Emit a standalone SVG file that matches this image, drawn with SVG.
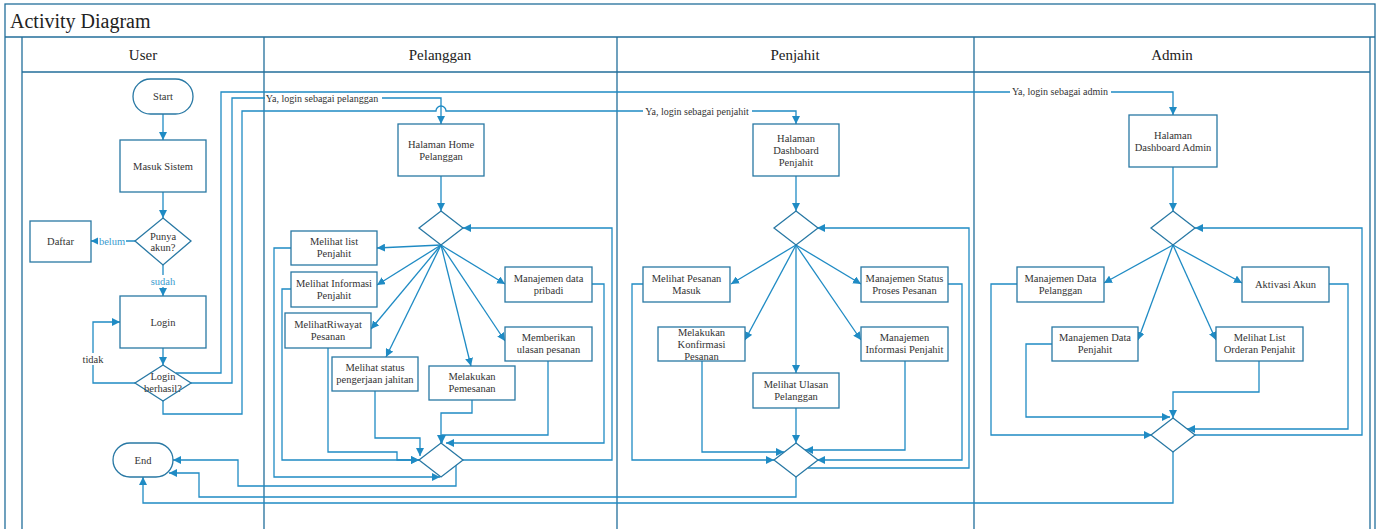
<svg xmlns="http://www.w3.org/2000/svg" width="1380" height="529" viewBox="0 0 1380 529">
<style>
.frame{fill:none;stroke:#236f9b;stroke-width:1.3}
.box{fill:#fff;stroke:#2878a4;stroke-width:1.3}
.conn{fill:none;stroke:#1f8bc4;stroke-width:1.3}
.t{font-family:"Liberation Serif",serif;font-size:10.5px;fill:#333;text-anchor:middle}
.lbl{font-family:"Liberation Serif",serif;font-size:10px;fill:#333;text-anchor:middle}
.blbl{font-family:"Liberation Serif",serif;font-size:10.5px;fill:#3a9ccf;text-anchor:middle}
.lane{font-family:"Liberation Serif",serif;font-size:15px;fill:#222;text-anchor:middle}
.bg{fill:#fff;stroke:none}
</style>
<defs>
<marker id="ah" viewBox="0 0 10 10" refX="10" refY="5" markerWidth="8" markerHeight="8" markerUnits="userSpaceOnUse" orient="auto">
<path d="M0,0 L10,5 L0,10 z" fill="#1f8bc4"/>
</marker>
</defs>
<rect x="0" y="0" width="1380" height="529" fill="#fff"/>
<g id="frame">
<rect class="frame" x="5" y="4" width="1370" height="540"/>
<path class="frame" d="M5,37 H1375 M22,37 V529 M22,72 H1370 M264,37 V529 M617,37 V529 M974,37 V529 M1370,37 V529"/>
<text x="10" y="28" style="font-family:'Liberation Serif',serif;font-size:20px;fill:#222">Activity Diagram</text>
<text class="lane" x="143" y="60">User</text>
<text class="lane" x="440" y="60">Pelanggan</text>
<text class="lane" x="795" y="60">Penjahit</text>
<text class="lane" x="1172" y="60">Admin</text>
</g>
<g id="connectors">
<path class="conn" marker-end="url(#ah)" d="M163,114 V140"/>
<path class="conn" marker-end="url(#ah)" d="M163,192 V218"/>
<path class="conn" marker-end="url(#ah)" d="M135,241 H91"/>
<path class="conn" marker-end="url(#ah)" d="M163,265 V296"/>
<path class="conn" marker-end="url(#ah)" d="M163,348 V365"/>
<path class="conn" marker-end="url(#ah)" d="M135,383 H93 V322 H120"/>
<path class="conn" marker-end="url(#ah)" d="M176,373 H221 V92 H1173 V115"/>
<path class="conn" marker-end="url(#ah)" d="M191,383 H232 V98 H441 V124"/>
<path class="conn" marker-end="url(#ah)" d="M163,401 V414 H242 V111 H436 A5,5 0 0 1 446,111 H796 V124"/>
<path class="conn" marker-end="url(#ah)" d="M441,176 V211"/>
<path class="conn" marker-end="url(#ah)" d="M441,245 L377,248"/>
<path class="conn" marker-end="url(#ah)" d="M441,245 L377,285"/>
<path class="conn" marker-end="url(#ah)" d="M441,245 L371,329"/>
<path class="conn" marker-end="url(#ah)" d="M441,245 L386,357"/>
<path class="conn" marker-end="url(#ah)" d="M441,245 L471,366"/>
<path class="conn" marker-end="url(#ah)" d="M441,245 L505,341"/>
<path class="conn" marker-end="url(#ah)" d="M441,245 L505,284"/>
<path class="conn" marker-end="url(#ah)" d="M291,248 H274 V477 H440"/>
<path class="conn" marker-end="url(#ah)" d="M291,289 H282 V460 H419"/>
<path class="conn" marker-end="url(#ah)" d="M328,348 V452 H397 V460 H419"/>
<path class="conn" marker-end="url(#ah)" d="M375,391 V438 H420 V456"/>
<path class="conn" marker-end="url(#ah)" d="M472,400 V413 H441 V443"/>
<path class="conn" marker-end="url(#ah)" d="M548,361 V435 H442 V443"/>
<path class="conn" marker-end="url(#ah)" d="M592,284 H604 V443 H446"/>
<path class="conn" marker-end="url(#ah)" d="M463,460 H612 V228 H463"/>
<path class="conn" marker-end="url(#ah)" d="M456,465 V486 H238 V460 H173"/>
<path class="conn" marker-end="url(#ah)" d="M796,176 V211"/>
<path class="conn" marker-end="url(#ah)" d="M796,245 L731,284"/>
<path class="conn" marker-end="url(#ah)" d="M796,245 L861,284"/>
<path class="conn" marker-end="url(#ah)" d="M796,245 L745,340"/>
<path class="conn" marker-end="url(#ah)" d="M796,245 L861,340"/>
<path class="conn" marker-end="url(#ah)" d="M796,245 V373"/>
<path class="conn" marker-end="url(#ah)" d="M643,284 H632 V460 H774"/>
<path class="conn" marker-end="url(#ah)" d="M702,361 V452 H784"/>
<path class="conn" marker-end="url(#ah)" d="M796,408 V443"/>
<path class="conn" marker-end="url(#ah)" d="M905,361 V450 H805"/>
<path class="conn" marker-end="url(#ah)" d="M948,284 H962 V460 H817"/>
<path class="conn" marker-end="url(#ah)" d="M808,468 H969 V228 H817"/>
<path class="conn" marker-end="url(#ah)" d="M796,477 V497 H199 V473 H169"/>
<path class="conn" marker-end="url(#ah)" d="M1173,167 V211"/>
<path class="conn" marker-end="url(#ah)" d="M1173,245 L1104,283"/>
<path class="conn" marker-end="url(#ah)" d="M1173,245 L1242,283"/>
<path class="conn" marker-end="url(#ah)" d="M1173,245 L1138,340"/>
<path class="conn" marker-end="url(#ah)" d="M1173,245 L1216,340"/>
<path class="conn" marker-end="url(#ah)" d="M1017,284 H991 V435 H1152"/>
<path class="conn" marker-end="url(#ah)" d="M1052,344 H1026 V417 H1170"/>
<path class="conn" marker-end="url(#ah)" d="M1259,361 V392 H1173 V418"/>
<path class="conn" marker-end="url(#ah)" d="M1329,284 H1348 V429 H1187"/>
<path class="conn" marker-end="url(#ah)" d="M1195,435 H1362 V228 H1195"/>
<path class="conn" marker-end="url(#ah)" d="M1173,452 V503 H143 V477"/>
<rect class="bg" x="98" y="235" width="28" height="12"/>
<text class="blbl" x="112" y="245">belum</text>
<rect class="bg" x="148" y="275" width="30" height="12"/>
<text class="blbl" x="163" y="285">sudah</text>
<rect class="bg" x="81" y="353" width="24" height="12"/>
<text class="t" x="93" y="363">tidak</text>
<rect class="bg" x="265" y="93" width="117" height="11"/>
<text class="lbl" x="322" y="102">Ya, login sebagai pelanggan</text>
<rect class="bg" x="643" y="106" width="109" height="11"/>
<text class="lbl" x="697" y="115">Ya, login sebagai penjahit</text>
<rect class="bg" x="1010" y="87" width="101" height="11"/>
<text class="lbl" x="1060" y="95">Ya, login sebagai admin</text>
</g>
<g id="start"><rect class="box" x="133" y="79" width="60" height="35" rx="17.5"/><text class="t" x="163" y="100">Start</text></g>
<g id="masuk"><rect class="box" x="120" y="140" width="86" height="52"/><text class="t" x="163" y="169.5">Masuk Sistem</text></g>
<g id="punya"><path class="box" d="M163,218 L191,241 L163,265 L135,241 z"/><text class="t" x="163" y="240">Punya</text><text class="t" x="163" y="251">akun?</text></g>
<g id="daftar"><rect class="box" x="30" y="221" width="61" height="41"/><text class="t" x="60.5" y="245">Daftar</text></g>
<g id="login"><rect class="box" x="120" y="296" width="86" height="52"/><text class="t" x="163" y="325.5">Login</text></g>
<g id="loginberhasil"><path class="box" d="M163,365 L191,383 L163,401 L135,383 z"/><text class="t" x="163" y="380">Login</text><text class="t" x="163" y="392">berhasil?</text></g>
<g id="end"><rect class="box" x="113" y="443" width="60" height="34" rx="17"/><text class="t" x="143" y="463.5">End</text></g>

<g id="homepelanggan"><rect class="box" x="398" y="124" width="86" height="52"/><text class="t" x="441" y="147.5">Halaman Home</text><text class="t" x="441" y="159.5">Pelanggan</text></g>
<g id="decpelanggan"><path class="box" d="M441,211 L463,228 L441,245 L419,228 z"/></g>
<g id="listpenjahit"><rect class="box" x="291" y="231" width="86" height="34"/><text class="t" x="334" y="245">Melihat list</text><text class="t" x="334" y="257">Penjahit</text></g>
<g id="infopenjahit"><rect class="box" x="291" y="272" width="86" height="35"/><text class="t" x="334" y="287">Melihat Informasi</text><text class="t" x="334" y="299">Penjahit</text></g>
<g id="riwayat"><rect class="box" x="285" y="313" width="86" height="35"/><text class="t" x="328" y="328">MelihatRiwayat</text><text class="t" x="328" y="340">Pesanan</text></g>
<g id="status"><rect class="box" x="332" y="357" width="86" height="34"/><text class="t" x="375" y="371">Melihat status</text><text class="t" x="375" y="383">pengerjaan jahitan</text></g>
<g id="pemesanan"><rect class="box" x="429" y="366" width="86" height="34"/><text class="t" x="472" y="380">Melakukan</text><text class="t" x="472" y="392">Pemesanan</text></g>
<g id="ulasan"><rect class="box" x="505" y="327" width="87" height="34"/><text class="t" x="548.5" y="341">Memberikan</text><text class="t" x="548.5" y="353">ulasan pesanan</text></g>
<g id="datapribadi"><rect class="box" x="505" y="267" width="87" height="35"/><text class="t" x="548.5" y="282">Manajemen data</text><text class="t" x="548.5" y="294">pribadi</text></g>
<g id="mergepelanggan"><path class="box" d="M441,443 L463,460 L441,477 L419,460 z"/></g>

<g id="dashpenjahit"><rect class="box" x="753" y="124" width="86" height="52"/><text class="t" x="796" y="141.5">Halaman</text><text class="t" x="796" y="153.5">Dashboard</text><text class="t" x="796" y="165.5">Penjahit</text></g>
<g id="decpenjahit"><path class="box" d="M796,211 L818,228 L796,245 L774,228 z"/></g>
<g id="pesananmasuk"><rect class="box" x="643" y="267" width="87" height="35"/><text class="t" x="686.5" y="282">Melihat Pesanan</text><text class="t" x="686.5" y="294">Masuk</text></g>
<g id="statusproses"><rect class="box" x="861" y="267" width="87" height="35"/><text class="t" x="904.5" y="282">Manajemen Status</text><text class="t" x="904.5" y="294">Proses Pesanan</text></g>
<g id="konfirmasi"><rect class="box" x="658" y="327" width="87" height="34"/><text class="t" x="701.5" y="335.5">Melakukan</text><text class="t" x="701.5" y="347.5">Konfirmasi</text><text class="t" x="701.5" y="359.5">Pesanan</text></g>
<g id="infopenjahit2"><rect class="box" x="861" y="327" width="87" height="34"/><text class="t" x="904.5" y="341">Manajemen</text><text class="t" x="904.5" y="353">Informasi Penjahit</text></g>
<g id="ulasanpelanggan"><rect class="box" x="753" y="373" width="86" height="35"/><text class="t" x="796" y="388">Melihat Ulasan</text><text class="t" x="796" y="400">Pelanggan</text></g>
<g id="mergepenjahit"><path class="box" d="M796,443 L818,460 L796,477 L774,460 z"/></g>

<g id="dashadmin"><rect class="box" x="1129" y="115" width="88" height="52"/><text class="t" x="1173" y="138.5">Halaman</text><text class="t" x="1173" y="150.5">Dashboard Admin</text></g>
<g id="decadmin"><path class="box" d="M1173,211 L1195,228 L1173,245 L1151,228 z"/></g>
<g id="datapelanggan"><rect class="box" x="1017" y="267" width="87" height="35"/><text class="t" x="1060.5" y="282">Manajemen Data</text><text class="t" x="1060.5" y="294">Pelanggan</text></g>
<g id="aktivasi"><rect class="box" x="1242" y="267" width="87" height="35"/><text class="t" x="1285.5" y="288">Aktivasi Akun</text></g>
<g id="datapenjahit"><rect class="box" x="1052" y="327" width="86" height="34"/><text class="t" x="1095" y="341">Manajemen Data</text><text class="t" x="1095" y="353">Penjahit</text></g>
<g id="orderan"><rect class="box" x="1216" y="327" width="87" height="34"/><text class="t" x="1259.5" y="341">Melihat List</text><text class="t" x="1259.5" y="353">Orderan Penjahit</text></g>
<g id="mergeadmin"><path class="box" d="M1173,418 L1195,435 L1173,452 L1151,435 z"/></g>
</svg>
